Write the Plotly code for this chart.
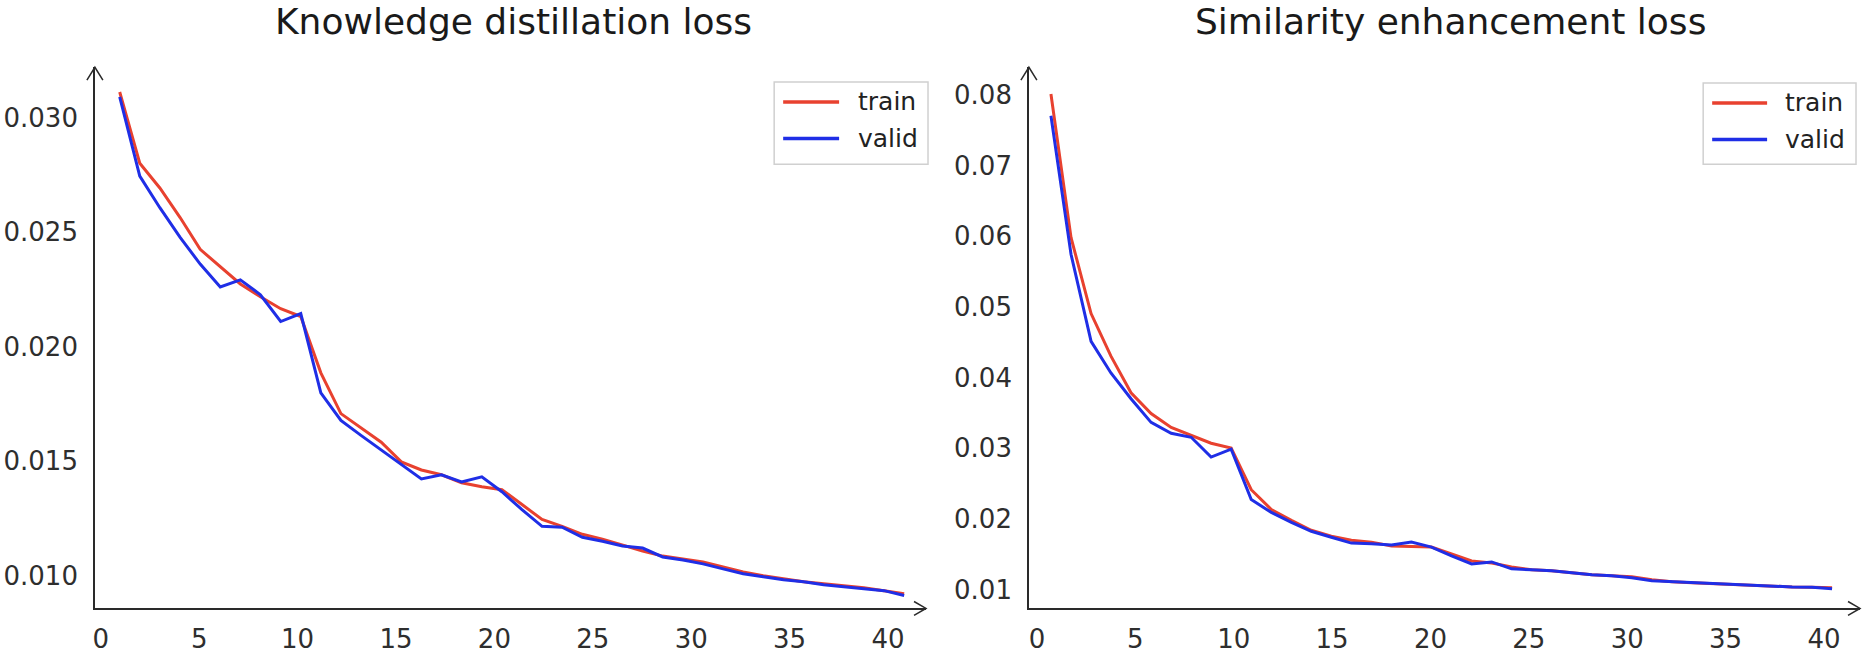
import plotly.graph_objects as go

# ---------------- data ----------------
kd_epochs = [0.96, 1.98, 3.00, 4.03, 5.05, 6.07, 7.09, 8.11, 9.14, 10.16,
             11.18, 12.20, 13.22, 14.25, 15.27, 16.29, 17.31, 18.33, 19.36, 20.38,
             21.40, 22.42, 23.44, 24.47, 25.49, 26.51, 27.53, 28.55, 29.58, 30.60,
             31.62, 32.64, 33.66, 34.69, 35.71, 36.73, 37.75, 38.77, 39.80, 40.82]
kd_train = [0.03112, 0.02801, 0.02693, 0.02564, 0.02425, 0.02348, 0.02274, 0.02218, 0.02166, 0.02132,
            0.01886, 0.01708, 0.01644, 0.01583, 0.01497, 0.01462, 0.01441, 0.01406, 0.01389, 0.01376,
            0.01311, 0.01246, 0.01216, 0.01181, 0.01160, 0.01134, 0.01108, 0.01086, 0.01073, 0.01060,
            0.01039, 0.01017, 0.01000, 0.00987, 0.00974, 0.00965, 0.00957, 0.00948, 0.00935, 0.00922]
kd_valid = [0.03091, 0.02745, 0.02607, 0.02477, 0.02361, 0.02261, 0.02292, 0.02227, 0.02110, 0.02145,
            0.01799, 0.01678, 0.01613, 0.01549, 0.01484, 0.01423, 0.01441, 0.01410, 0.01432, 0.01367,
            0.01289, 0.01216, 0.01212, 0.01168, 0.01151, 0.01130, 0.01121, 0.01082, 0.01069, 0.01052,
            0.01030, 0.01009, 0.00996, 0.00983, 0.00974, 0.00961, 0.00952, 0.00944, 0.00935, 0.00914]

se_epochs = [0.71, 1.73, 2.75, 3.76, 4.78, 5.80, 6.82, 7.84, 8.85, 9.87,
             10.89, 11.91, 12.93, 13.94, 14.96, 15.98, 17.00, 18.02, 19.03, 20.05,
             21.07, 22.09, 23.11, 24.12, 25.14, 26.16, 27.18, 28.20, 29.21, 30.23,
             31.25, 32.27, 33.29, 34.30, 35.32, 36.34, 37.36, 38.38, 39.39, 40.41]
se_train = [0.08014, 0.05984, 0.04906, 0.04304, 0.03786, 0.03492, 0.03296, 0.03184, 0.03072, 0.03002,
            0.02414, 0.02134, 0.01980, 0.01840, 0.01756, 0.01700, 0.01672, 0.01616, 0.01610, 0.01602,
            0.01504, 0.01406, 0.01378, 0.01322, 0.01280, 0.01266, 0.01238, 0.01210, 0.01196, 0.01182,
            0.01140, 0.01112, 0.01098, 0.01084, 0.01070, 0.01056, 0.01042, 0.01038, 0.01035, 0.01028]
se_valid = [0.07706, 0.05746, 0.04514, 0.04066, 0.03702, 0.03366, 0.03212, 0.03156, 0.02876, 0.02988,
            0.02274, 0.02092, 0.01952, 0.01826, 0.01742, 0.01658, 0.01650, 0.01630, 0.01672, 0.01602,
            0.01476, 0.01364, 0.01392, 0.01294, 0.01280, 0.01266, 0.01238, 0.01210, 0.01196, 0.01168,
            0.01126, 0.01112, 0.01098, 0.01084, 0.01070, 0.01056, 0.01042, 0.01038, 0.01035, 0.01014]

x_ticks = [0, 5, 10, 15, 20, 25, 30, 35, 40]
kd_yticks = [0.010, 0.015, 0.020, 0.025, 0.030]
se_yticks = [0.01, 0.02, 0.03, 0.04, 0.05, 0.06, 0.07, 0.08]
titles = ["Knowledge distillation loss", "Similarity enhancement loss"]
series_names = ["train", "valid"]

# ---------------- style ----------------
W, H = 1866, 654
RED = "#e8412f"
BLUE = "#1f2ee6"
AX = "#2a2a2a"
FONT = "DejaVu Sans"

def px(x):
    return x / W

def py(y):
    return 1 - y / H

# panel pixel boxes: (left, right, top, bottom)
P1 = (93, 925, 68, 615)
P2 = (1028, 1860, 68, 615)

fig = go.Figure()
fig.add_trace(go.Scatter(x=kd_epochs, y=kd_train, mode="lines", name="train",
                         line=dict(color=RED, width=3), xaxis="x", yaxis="y", showlegend=False))
fig.add_trace(go.Scatter(x=kd_epochs, y=kd_valid, mode="lines", name="valid",
                         line=dict(color=BLUE, width=3), xaxis="x", yaxis="y", showlegend=False))
fig.add_trace(go.Scatter(x=se_epochs, y=se_train, mode="lines", name="train",
                         line=dict(color=RED, width=3), xaxis="x2", yaxis="y2", showlegend=False))
fig.add_trace(go.Scatter(x=se_epochs, y=se_valid, mode="lines", name="valid",
                         line=dict(color=BLUE, width=3), xaxis="x2", yaxis="y2", showlegend=False))

tickfont = dict(family=FONT, size=26, color="#2e2e2e")

def xaxis(domain, rng, anchor):
    return dict(domain=domain, range=rng, anchor=anchor, showgrid=False, zeroline=False,
                showline=True, linecolor=AX, linewidth=1.5, ticks="", tickvals=x_ticks,
                tickfont=tickfont, ticklabelstandoff=7, fixedrange=True)

def yaxis(domain, rng, anchor, vals, fmt):
    return dict(domain=domain, range=rng, anchor=anchor, showgrid=False, zeroline=False,
                showline=True, linecolor=AX, linewidth=1.5, ticks="", tickvals=vals,
                tickformat=fmt, tickfont=tickfont, ticklabelstandoff=10, fixedrange=True)

fig.update_layout(
    width=W, height=H, margin=dict(l=0, r=0, t=0, b=0),
    paper_bgcolor="white", plot_bgcolor="white",
    xaxis=xaxis([px(P1[0]), px(P1[1])], [-0.30, 41.93], "y"),
    yaxis=yaxis([py(P1[3]), py(P1[2])], [0.008575, 0.0322], "x", kd_yticks, ".3f"),
    xaxis2=xaxis([px(P2[0]), px(P2[1])], [-0.41, 41.83], "y2"),
    yaxis2=yaxis([py(P2[3]), py(P2[2])], [0.00734, 0.08392], "x2", se_yticks, ".2f"),
    showlegend=False,
)

shapes = []
annotations = []

def arrows(P):
    l, r, t, b = P
    # y-axis arrowhead (open)
    shapes.append(dict(type="path", xref="paper", yref="paper",
                       path=f"M{px(l-8)},{py(t+13)} L{px(l)},{py(t)} L{px(l+8)},{py(t+13)}",
                       line=dict(color=AX, width=1.5)))
    # x-axis arrowhead (open)
    shapes.append(dict(type="path", xref="paper", yref="paper",
                       path=f"M{px(r-12)},{py(b-7)} L{px(r)},{py(b)} L{px(r-12)},{py(b+7)}",
                       line=dict(color=AX, width=1.5)))

arrows(P1)
arrows(P2)

def legend(box, line_x, ys, text_x):
    x0, x1, y0, y1 = box
    shapes.append(dict(type="rect", xref="paper", yref="paper",
                       x0=px(x0), x1=px(x1), y0=py(y1), y1=py(y0),
                       line=dict(color="#d0d0d0", width=1.5), fillcolor="rgba(255,255,255,0.9)"))
    for name, color, yy in zip(series_names, [RED, BLUE], ys):
        shapes.append(dict(type="line", xref="paper", yref="paper",
                           x0=px(line_x[0]), x1=px(line_x[1]), y0=py(yy), y1=py(yy),
                           line=dict(color=color, width=3.5)))
        annotations.append(dict(text=name, xref="paper", yref="paper", x=px(text_x), y=py(yy),
                                xanchor="left", yanchor="middle", showarrow=False,
                                font=dict(family=FONT, size=25, color="#222222")))

legend((773, 927, 83, 166), (782, 838), (103, 140), 855)
legend((1703, 1856, 84, 166), (1712, 1767), (104, 141), 1783)

for title, cx in zip(titles, [512, 1450]):
    annotations.append(dict(text=title, xref="paper", yref="paper", x=px(cx), y=py(22),
                            xanchor="center", yanchor="middle", showarrow=False,
                            font=dict(family=FONT, size=36, color="#1a1a1a")))

fig.update_layout(shapes=shapes, annotations=annotations)

fig.write_html("out.html", config={"displayModeBar": False},
               post_script="document.body.style.margin='0';")
